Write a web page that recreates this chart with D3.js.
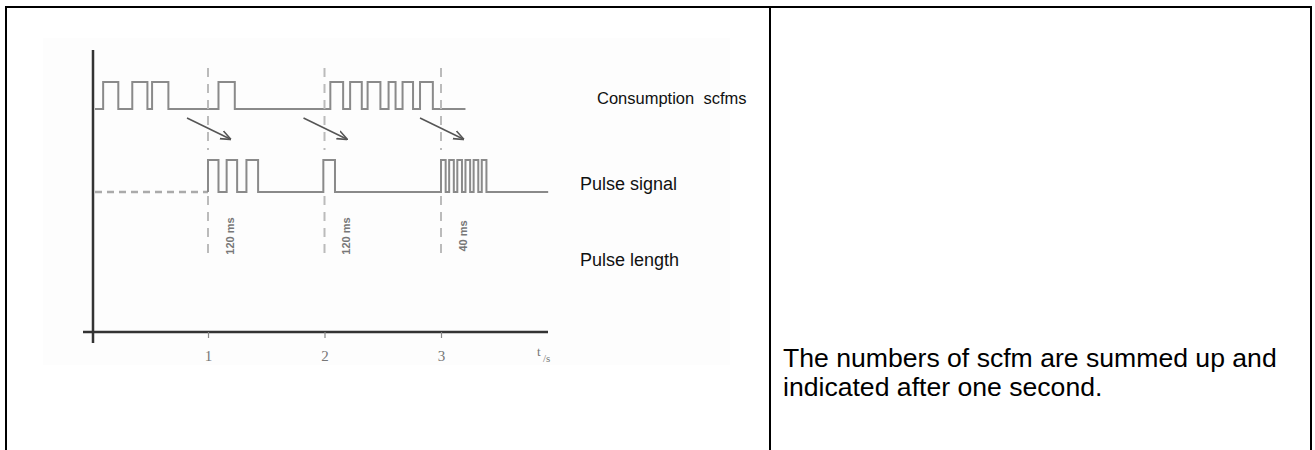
<!DOCTYPE html>
<html>
<head>
<meta charset="utf-8">
<script src="https://cdn.jsdelivr.net/npm/d3@7"></script>
<style>
  body { margin: 0; background: #fff; }
  svg { display: block; font-family: "Liberation Sans", Arial, sans-serif; }
</style>
</head>
<body>
<svg id="chart" width="1315" height="450"></svg>
<script>
// time marks (seconds) and their labels
const tickValues = [1, 2, 3]
const tickLabels = ["1", "2", "3"]

// consumption signal: [rise, fall] in seconds, line runs from consStart to consEnd
const consStart = 0.03
const consEnd = 3.21
const consumptionPulses = [[0.10, 0.23], [0.35, 0.48], [0.52, 0.66], [1.09, 1.23],
  [2.05, 2.16], [2.22, 2.32], [2.37, 2.48], [2.55, 2.61], [2.67, 2.76], [2.82, 2.93]]

// pulse signal: dashed until pulseStart, solid to pulseEnd
const pulseDashStart = 0.03
const pulseStart = 1.0
const pulseEnd = 3.92
const pulseSignalPulses = [[1.0, 1.09], [1.16, 1.25], [1.33, 1.43], [1.99, 2.09],
  [3.0, 3.04], [3.07, 3.11], [3.14, 3.18], [3.21, 3.25], [3.28, 3.32], [3.35, 3.39]]

// per-second labels
const pulseLengthLabels = ["120 ms", "120 ms", "40 ms"]
const seriesLabels = ["Consumption  scfms", "Pulse signal", "Pulse length"]
const noteLines = ["The numbers of scfm are summed up and", "indicated after one second."]

const svg = d3.select("#chart")

// table borders
svg.append("line").attr("x1", 5).attr("x2", 1312).attr("y1", 7).attr("y2", 7)
  .attr("stroke", "#000").attr("stroke-width", 2)
;[6, 770, 1311].forEach(x => {
  svg.append("line").attr("x1", x).attr("x2", x).attr("y1", 6).attr("y2", 450)
    .attr("stroke", "#000").attr("stroke-width", 2)
})

// faint picture background
svg.append("rect").attr("x", 43).attr("y", 38).attr("width", 687).attr("height", 327)
  .attr("fill", "#fdfdfd")

const x = d3.scaleLinear().domain([0, 4]).range([91.5, 557.5])
// signal level: 0 = low, 1 = high, per row
const yCons = d3.scaleLinear().domain([0, 1]).range([109, 82])
const yPulse = d3.scaleLinear().domain([0, 1]).range([192, 160])

function stepPoints(pulses, start, end) {
  const pts = [[start, 0]]
  pulses.forEach(p => {
    pts.push([p[0], 0], [p[0], 1], [p[1], 1], [p[1], 0])
  })
  pts.push([end, 0])
  return pts
}

const sigColor = "#8a8a8a"

// consumption
svg.append("path")
  .attr("d", d3.line().x(d => x(d[0])).y(d => yCons(d[1]))(stepPoints(consumptionPulses, consStart, consEnd)))
  .attr("fill", "none").attr("stroke", sigColor).attr("stroke-width", 2)

// pulse signal
svg.append("line")
  .attr("x1", x(pulseDashStart)).attr("x2", x(pulseStart))
  .attr("y1", yPulse(0)).attr("y2", yPulse(0))
  .attr("stroke", "#aaa").attr("stroke-width", 2.5).attr("stroke-dasharray", "7,5")
svg.append("path")
  .attr("d", d3.line().x(d => x(d[0])).y(d => yPulse(d[1]))(stepPoints(pulseSignalPulses, pulseStart, pulseEnd)))
  .attr("fill", "none").attr("stroke", sigColor).attr("stroke-width", 2)

// dashed second markers
tickValues.forEach(t => {
  ;[[68, 150], [196, 258]].forEach(seg => {
    svg.append("line").attr("x1", x(t)).attr("x2", x(t)).attr("y1", seg[0]).attr("y2", seg[1])
      .attr("stroke", "#bbb").attr("stroke-width", 2).attr("stroke-dasharray", "9,7")
  })
})

// arrows
svg.append("defs").append("marker")
  .attr("id", "head").attr("viewBox", "0 0 10 10").attr("refX", 9).attr("refY", 5)
  .attr("markerWidth", 7).attr("markerHeight", 7).attr("orient", "auto")
  .append("path").attr("d", "M0,1 L10,5 L0,9").attr("fill", "none").attr("stroke", "#555").attr("stroke-width", 1.5)
tickValues.forEach(t => {
  svg.append("line")
    .attr("x1", x(t - 0.18)).attr("y1", 118).attr("x2", x(t + 0.19)).attr("y2", 139)
    .attr("stroke", "#555").attr("stroke-width", 1.5).attr("marker-end", "url(#head)")
})

// rotated pulse length labels
tickValues.forEach((t, i) => {
  svg.append("text")
    .attr("transform", `translate(${x(t + 0.19)},236) rotate(-90)`)
    .attr("text-anchor", "middle").attr("dy", "0.35em")
    .attr("font-size", 11).attr("font-weight", "bold").attr("fill", "#777")
    .text(pulseLengthLabels[i])
})

// axes
svg.append("line").attr("x1", 93).attr("x2", 93).attr("y1", 50).attr("y2", 343)
  .attr("stroke", "#333").attr("stroke-width", 2.5)
const axis = svg.append("g").attr("transform", "translate(0,332)")
  .call(d3.axisBottom(x).tickValues(tickValues).tickFormat((d, i) => tickLabels[i]).tickSize(6).tickSizeOuter(0))
axis.select(".domain").attr("d", "M83,0H548").attr("stroke", "#333").attr("stroke-width", 2.5)
axis.selectAll(".tick line").attr("stroke", "#888").attr("stroke-width", 1.2)
axis.selectAll(".tick text").attr("font-size", 15).attr("fill", "#777").attr("y", 18)
  .attr("font-family", "Liberation Serif, serif")
svg.append("text").attr("x", 537).attr("y", 356).attr("font-size", 13).attr("fill", "#777")
  .attr("font-family", "Liberation Serif, serif").text("t")
svg.append("text").attr("x", 543).attr("y", 362).attr("font-size", 11).attr("fill", "#777")
  .attr("font-family", "Liberation Serif, serif").text("/s")

// series labels
const labelPos = [[597, 104], [580, 190], [580, 266]]
const labelSize = [16.5, 18, 18]
seriesLabels.forEach((s, i) => {
  svg.append("text").attr("x", labelPos[i][0]).attr("y", labelPos[i][1])
    .attr("font-size", labelSize[i]).attr("fill", "#111").attr("xml:space", "preserve")
    .style("white-space", "pre").text(s)
})

// note in right cell
noteLines.forEach((s, i) => {
  svg.append("text").attr("x", 783).attr("y", 367 + i * 29)
    .attr("font-size", 26.6).attr("fill", "#000").text(s)
})
</script>
</body>
</html>
